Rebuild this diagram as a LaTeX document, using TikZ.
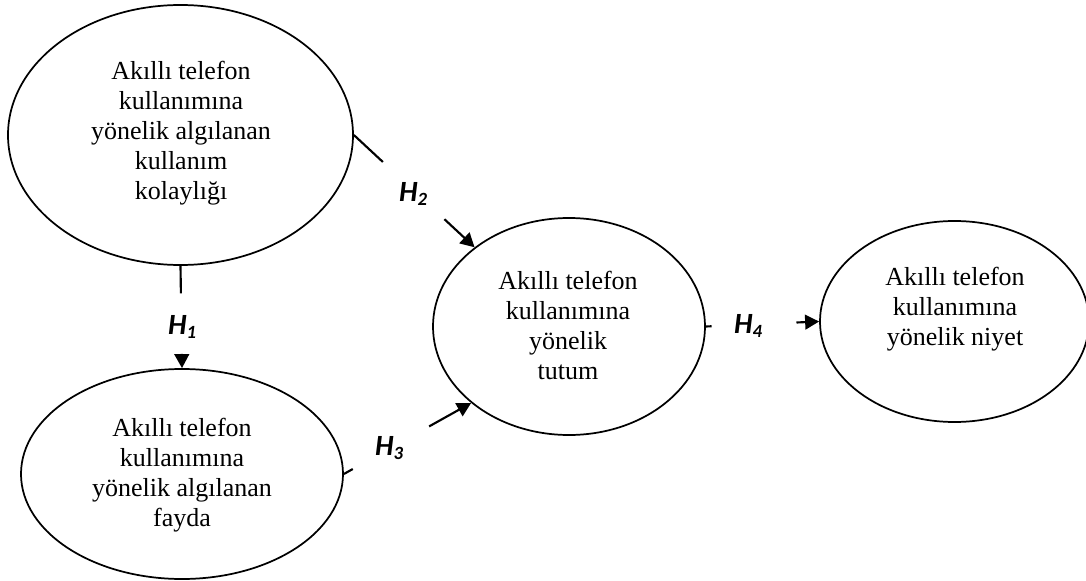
\documentclass[tikz,border=0pt]{standalone}
\usepackage{fontspec}
\setmainfont{Liberation Serif}
\newfontfamily\hfont{Carlito}
\usetikzlibrary{shapes.geometric,arrows.meta,calc}
\newcommand{\hyplab}[1]{H\raisebox{-3.5pt}{\fontsize{14}{14}\selectfont #1}}
\begin{document}
\begin{tikzpicture}[x=0.75pt,y=-0.75pt,
  ell/.style={draw,ellipse,line width=1.3pt,inner sep=0pt},
  txt/.style={align=center,font=\fontsize{19.5}{22.5}\selectfont,inner sep=0pt},
  hyp/.style={font=\hfont\bfseries\itshape\fontsize{22}{22}\selectfont,inner sep=0pt},
  conn/.style={line width=1.6pt},
  arr/.style={line width=1.6pt,-{Triangle[length=10.5pt,width=11pt]}}]
\useasboundingbox (0,0) rectangle (1086,581);
% ellipses
\node[ell,minimum width=258.75pt,minimum height=195pt] (E1) at (180.5,135) {};
\node[ell,minimum width=241.5pt,minimum height=157.5pt] (E2) at (182,474) {};
\node[ell,minimum width=204pt,minimum height=162.75pt] (E3) at (569,326.5) {};
\node[ell,minimum width=201.75pt,minimum height=150.75pt] (E4) at (954.5,321.5) {};
% texts
\node[txt] (T1) at (181,133) {Akıllı telefon\\kullanımına\\yönelik algılanan\\kullanım\\kolaylığı};
\node[txt] (T2) at (182,475) {Akıllı telefon\\kullanımına\\yönelik algılanan\\fayda};
\node[txt] (T3) at (568,325) {Akıllı telefon\\kullanımına\\yönelik\\tutum};
\node[txt] (T4) at (955,309) {Akıllı telefon\\kullanımına\\yönelik niyet};
% connector break points
\coordinate (h1a) at ($(E1.south)!0.27!(E2.north)$);
\coordinate (h1b) at ($(E1.south)!0.86!(E2.north)$);
\coordinate (h2a) at ($(E1.east)!0.24!(E3.140.7)$);
\coordinate (h2b) at ($(E1.east)!0.75!(E3.140.7)$);
\coordinate (h3a) at ($(E2.east)!0.07!(E3.218.6)$);
\coordinate (h3b) at ($(E2.east)!0.67!(E3.218.6)$);
\coordinate (h4a) at ($(E3.east)!0.05!(E4.west)$);
\coordinate (h4b) at ($(E3.east)!0.80!(E4.west)$);
% connectors
\draw[conn] (E1.south) -- (h1a);
\draw[arr] (h1b) -- (E2.north);
\draw[conn] (E1.east) -- (h2a);
\draw[arr] (h2b) -- (E3.140.7);
\draw[conn] (E2.east) -- (h3a);
\draw[arr] (h3b) -- (E3.218.6);
\draw[conn] (E3.east) -- (h4a);
\draw[arr] (h4b) -- (E4.west);
% labels
\node[hyp] (H1) at (182,327) {\hyplab{1}};
\node[hyp] (H2) at (413,194) {\hyplab{2}};
\node[hyp] (H3) at (389,448) {\hyplab{3}};
\node[hyp] (H4) at (748,326) {\hyplab{4}};
\end{tikzpicture}
\end{document}
